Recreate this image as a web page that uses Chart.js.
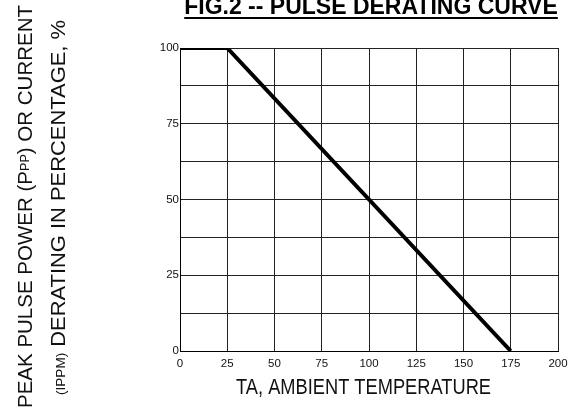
<!DOCTYPE html>
<html>
<head>
<meta charset="utf-8">
<script src="https://cdn.jsdelivr.net/npm/chart.js@4"></script>
<style>
  html, body { margin: 0; padding: 0; background: #fff; }
  #wrap { width: 577px; height: 412px; }
</style>
</head>
<body>
<div id="wrap"><canvas id="graf"></canvas></div>
<script>
// data
const teploty = [0, 25, 175];
const derating = [100, 100, 0];
const xTicks = [0, 25, 50, 75, 100, 125, 150, 175, 200];
const yTicks = [0, 25, 50, 75, 100];

const nadpis = 'FIG.2 -- PULSE DERATING CURVE';
const xNazev = 'TA, AMBIENT TEMPERATURE';
// y title: [text, font size, baseline shift]
const yRadek1 = [['PEAK PULSE POWER (P', 21, 0], ['PP', 13, -3], [') OR CURRENT', 21, 0]];
const yRadek2 = [['(IPPM)', 13, 0], [' DERATING IN PERCENTAGE, %', 21, 0]];

const FONT = '"Liberation Sans", Arial, sans-serif';

// text squeezed/stretched to a given length
const textNaDelku = (ctx, kusy, delka) => {
    let celk = 0;
    kusy.forEach(([t, s]) => { ctx.font = s + 'px ' + FONT; celk += ctx.measureText(t).width; });
    ctx.scale(delka / celk, 1);
    let pos = 0;
    kusy.forEach(([t, s, dy]) => {
        ctx.font = s + 'px ' + FONT;
        ctx.fillText(t, pos, dy);
        pos += ctx.measureText(t).width;
    });
};

// draws the underlined title and the axis titles
const popisky = {
    id: 'popisky',
    afterDraw(chart) {
        const ctx = chart.ctx;
        ctx.save();
        ctx.fillStyle = '#000';
        ctx.textAlign = 'left';
        ctx.textBaseline = 'alphabetic';

        // top title, bold + underline
        ctx.font = 'bold 23px ' + FONT;
        const w = ctx.measureText(nadpis).width;
        const tx = 371 - w / 2;
        ctx.fillText(nadpis, tx, 14);
        ctx.fillRect(tx, 17, w, 2);

        ctx.fillStyle = '#111';
        // x title, condensed
        ctx.save();
        ctx.translate(236, 394);
        textNaDelku(ctx, [[xNazev, 22, 0]], 255);
        ctx.restore();

        // y title, two rotated lines
        ctx.save();
        ctx.translate(32, 408);
        ctx.rotate(-Math.PI / 2);
        textNaDelku(ctx, yRadek1, 403);
        ctx.restore();

        ctx.save();
        ctx.translate(65, 395);
        ctx.rotate(-Math.PI / 2);
        textNaDelku(ctx, yRadek2, 375);
        ctx.restore();

        ctx.restore();
    }
};

new Chart(document.getElementById('graf'), {
    type: 'line',
    data: {
        datasets: [{
            data: teploty.map((t, i) => ({ x: t, y: derating[i] })),
            borderColor: '#000',
            borderWidth: 4,
            pointRadius: 0,
            fill: false,
            tension: 0
        }]
    },
    options: {
        responsive: true,
        maintainAspectRatio: false,
        animation: false,
        layout: { padding: { top: 48, right: 19, left: 0, bottom: 0 } },
        plugins: { legend: { display: false }, tooltip: { enabled: false } },
        scales: {
            x: {
                type: 'linear',
                min: xTicks[0],
                max: xTicks[xTicks.length - 1],
                afterBuildTicks: s => { s.ticks = xTicks.map(v => ({ value: v })); },
                afterFit: s => { s.height = 61; },
                grid: { color: '#222', lineWidth: 1, drawTicks: false },
                border: { color: '#000', width: 1 },
                ticks: { color: '#111', font: { family: FONT, size: 11.5 }, padding: 6, maxRotation: 0 }
            },
            y: {
                min: yTicks[0],
                max: yTicks[yTicks.length - 1],
                ticks: {
                    stepSize: 12.5,
                    color: '#111',
                    font: { family: FONT, size: 11.5 },
                    padding: 1,
                    callback: v => yTicks.includes(v) ? String(v) : ''
                },
                afterFit: s => { s.width = 180; },
                grid: { color: '#222', lineWidth: 1, drawTicks: false },
                border: { color: '#000', width: 1 }
            }
        }
    },
    plugins: [popisky]
});
</script>
</body>
</html>
